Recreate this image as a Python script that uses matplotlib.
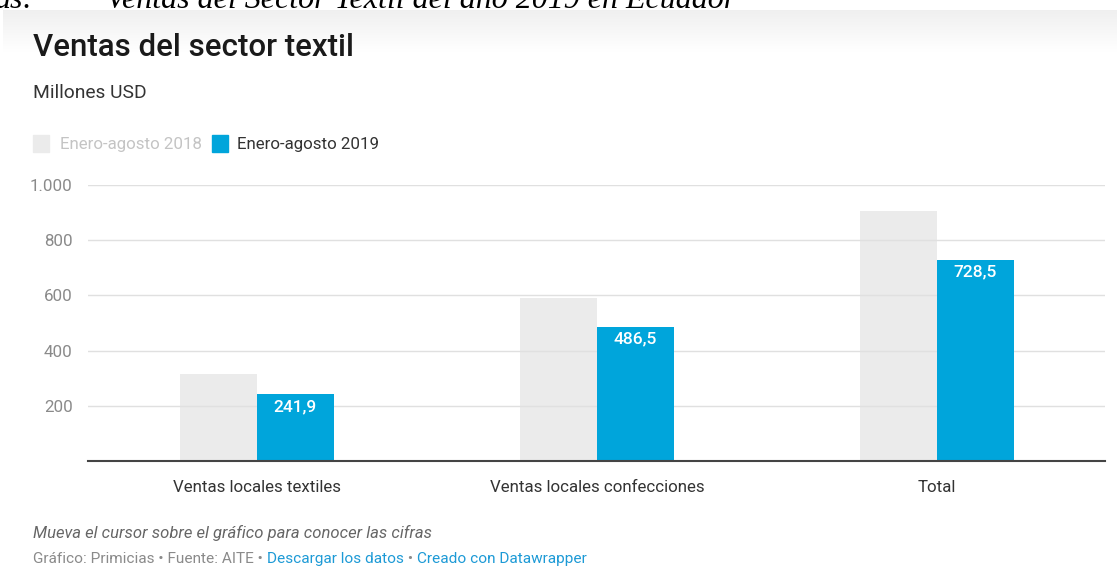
import numpy as np
import matplotlib
matplotlib.use('Agg')
import matplotlib.pyplot as plt

plt.rcParams['font.family'] = ['Roboto', 'DejaVu Sans']

categorias = ['Ventas locales textiles', 'Ventas locales confecciones', 'Total']
ventas_2018 = [314, 589, 906]
ventas_2019 = [241.9, 486.5, 728.5]
serie_2018 = 'Enero-agosto 2018'
serie_2019 = 'Enero-agosto 2019'
yticks = [200, 400, 600, 800, 1000]
ytick_labels = ['200', '400', '600', '800', '1.000']

W, H = 1117, 567
fig = plt.figure(figsize=(W / 100, H / 100), dpi=100)
fig.patch.set_facecolor('white')

def fx(px):
    return px / W

def fy(py):
    return 1 - py / H

# faded band under the cut caption line
band = fig.add_axes([fx(3), fy(52), 1 - fx(3), (52 - 10) / H])
grad = np.linspace(0.94, 1.0, 64).reshape(-1, 1)
band.imshow(np.dstack([grad, grad, grad]), aspect='auto', extent=[0, 1, 0, 1], origin='upper')
band.axis('off')

fig.text(fx(-6), fy(8), 'as:', family='Liberation Serif', style='italic',
         fontsize=23, color='black', va='baseline')
fig.text(fx(106), fy(8), 'Ventas del Sector Textil del año 2019 en Ecuador',
         family='Liberation Serif', style='italic', fontsize=23, color='black', va='baseline')

ax = fig.add_axes([fx(88), fy(461), fx(1105) - fx(88), (461 - 185) / H])
x = np.arange(len(categorias))
w = 0.2265
gris = '#ebebeb'
azul = '#00a5db'

ax.bar(x - w / 2, ventas_2018, w, color=gris, zorder=1)
ax.bar(x + w / 2, ventas_2019, w, color=azul, zorder=3)
for xi, v in zip(x, ventas_2019):
    ax.text(xi + w / 2, v - 17, f'{v:.1f}'.replace('.', ','), ha='center', va='top',
            color='white', fontsize=12.5, fontweight='medium', zorder=4)

ax.set_xlim(-0.497, 2.494)
ax.set_ylim(0, 1000)
ax.set_yticks(yticks)
ax.set_yticklabels(ytick_labels)
ax.yaxis.grid(True, color='#e0e0e0', lw=1, zorder=2)
ax.set_axisbelow(False)
ax.set_xticks(x)
ax.set_xticklabels(categorias)
ax.tick_params(axis='y', length=0, pad=11, labelsize=12.2, labelcolor='#8a8a8a')
ax.tick_params(axis='x', length=0, pad=14, labelsize=12.2, labelcolor='#333333')
for s in ['top', 'right', 'left']:
    ax.spines[s].set_visible(False)
ax.spines['bottom'].set_color('#444444')
ax.spines['bottom'].set_linewidth(1.5)
ax.spines['bottom'].set_zorder(5)
ax.patch.set_alpha(0)

fig.text(fx(33), fy(47), 'Ventas del sector textil', fontsize=22.5, fontweight='medium',
         color='#1a1a1a', va='center')
fig.text(fx(33), fy(93), 'Millones USD', fontsize=13.8, color='#333333', va='center')

# legend
fig.patches.append(plt.Rectangle((fx(33), fy(152)), fx(16), 17 / H, color=gris,
                                 transform=fig.transFigure, figure=fig))
fig.text(fx(60), fy(144), serie_2018, fontsize=12.2, color='#c4c4c4', va='center')
fig.patches.append(plt.Rectangle((fx(212), fy(152)), fx(16), 17 / H, color=azul,
                                 transform=fig.transFigure, figure=fig))
fig.text(fx(237), fy(144), serie_2019, fontsize=12.2, color='#333333', va='center')

fig.text(fx(33), fy(533), 'Mueva el cursor sobre el gráfico para conocer las cifras',
         fontsize=12, style='italic', color='#666666', va='center')

# source line with link-coloured pieces
partes = [('Gráfico: Primicias • Fuente: AITE • ', '#8a8a8a'),
          ('Descargar los datos', '#1d9ad6'),
          (' • ', '#8a8a8a'),
          ('Creado con Datawrapper', '#1d9ad6')]
fig.canvas.draw()
r = fig.canvas.get_renderer()
xpos = 33
for txt, col in partes:
    t = fig.text(fx(xpos), fy(559), txt, fontsize=11.1, color=col, va='center')
    xpos += t.get_window_extent(renderer=r).width

fig.savefig('out.png', dpi=100, facecolor='white')
